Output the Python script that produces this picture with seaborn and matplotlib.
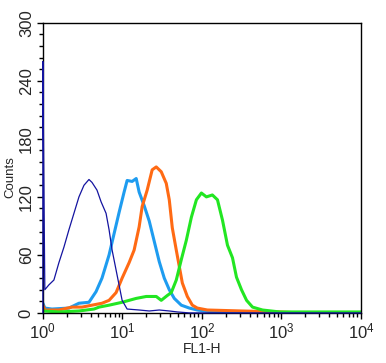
import numpy as np
import pandas as pd
import matplotlib
matplotlib.use("Agg")
import matplotlib.pyplot as plt
import seaborn as sns
from matplotlib.ticker import MultipleLocator, LogLocator, NullFormatter

sns.set_style("ticks")
plt.rcParams['font.family'] = ['Liberation Sans', 'DejaVu Sans']
plt.rcParams['mathtext.fontset'] = 'custom'
plt.rcParams['mathtext.rm'] = 'Liberation Sans'
plt.rcParams['mathtext.it'] = 'Liberation Sans'

# log10(FL1-H) positions and counts
navy_log = [0.000, 0.000, 0.012, 0.025, 0.076, 0.139, 0.202, 0.265, 0.328, 0.391, 0.454, 0.517,
            0.580, 0.618, 0.681, 0.732, 0.795, 0.833, 0.871, 0.934, 0.997, 1.060, 1.211,
            1.338, 1.464, 1.590, 1.691, 1.842, 4.000]
navy_cnt = [0, 260, 140, 24, 29, 34, 52, 68, 86, 103, 120, 132,
            138, 135, 127, 115, 103, 86, 65, 39, 13, 4, 3,
            2, 3, 2, 1, 0, 0]

sky_log = [0.000, 0.025, 0.114, 0.328, 0.454, 0.580, 0.669, 0.744, 0.833, 0.896, 0.959, 1.022,
           1.060, 1.123, 1.174, 1.211, 1.274, 1.338, 1.401, 1.464, 1.527, 1.590, 1.653,
           1.741, 1.842, 1.943, 2.132, 2.322, 4.000]
sky_cnt = [10, 5, 4, 5, 10, 11, 22, 36, 60, 82, 104, 125,
           137, 136, 139, 125, 111, 95, 74, 53, 36, 24, 15,
           8, 5, 3, 1, 0, 0]

orange_log = [0.000, 0.025, 0.202, 0.366, 0.492, 0.618, 0.744, 0.833, 0.921, 0.997, 1.085, 1.148,
              1.211, 1.249, 1.312, 1.375, 1.426, 1.489, 1.552, 1.590, 1.628, 1.678, 1.716,
              1.754, 1.817, 1.880, 1.943, 2.069, 2.500, 2.978, 3.230, 4.000]
orange_cnt = [8, 3, 3, 6, 6, 8, 10, 13, 21, 36, 52, 65,
              89, 110, 127, 148, 151, 146, 134, 117, 88, 65, 48,
              31, 17, 8, 5, 3, 2, 1, 0, 0]

green_log = [0.000, 0.202, 0.454, 0.644, 0.707, 0.833, 0.997, 1.174, 1.300, 1.426, 1.489, 1.565,
             1.615, 1.678, 1.741, 1.804, 1.868, 1.931, 1.994, 2.057, 2.132, 2.196, 2.259,
             2.322, 2.385, 2.435, 2.498, 2.562, 2.637, 2.763, 2.978, 4.000]
green_cnt = [2, 1, 2, 4, 6, 8, 11, 15, 17, 17, 13, 18,
             21, 34, 55, 75, 99, 117, 124, 120, 122, 117, 96,
             70, 57, 37, 24, 13, 6, 3, 1, 1]

series = [
    ("sky", sky_log, sky_cnt, "#1e9cf0", 2.2),
    ("orange", orange_log, orange_cnt, "#ff6a14", 2.2),
    ("green", green_log, green_cnt, "#22e622", 2.2),
    ("navy", navy_log, navy_cnt, "#1414a0", 0.9),
]

fig = plt.figure(figsize=(3.86, 3.63), dpi=100)
ax = fig.add_axes([0.111, 0.138, 0.824, 0.799])

for name, lg, cnt, col, lw in series:
    df = pd.DataFrame({"FL1-H": np.power(10.0, lg), "Counts": cnt})
    sns.lineplot(data=df, x="FL1-H", y="Counts", sort=False, estimator=None,
                 color=col, linewidth=lw, ax=ax)
    if name == "navy":
        ax.lines[-1].set_clip_on(False)
        ax.lines[-1].set_zorder(3)

ax.set_xscale("log")
ax.set_xlim(1, 1e4)
ax.set_ylim(0, 300)
ax.xaxis.set_major_locator(LogLocator(base=10, numticks=10))
ax.xaxis.set_minor_locator(LogLocator(base=10, subs=np.arange(2, 10), numticks=100))
ax.xaxis.set_minor_formatter(NullFormatter())
ax.set_xticks([1, 10, 100, 1000, 10000])
ax.set_xticklabels([r"$10^0$", r"$10^1$", r"$10^2$", r"$10^3$", r"$10^4$"], fontsize=12)

ax.yaxis.set_major_locator(MultipleLocator(60))
ax.yaxis.set_minor_locator(MultipleLocator(12))
ax.set_yticks([0, 60, 120, 180, 240, 300])
ax.set_yticklabels(["0", "60", "120", "180", "240", "300"], fontsize=12, rotation=90, va="center")

ax.tick_params(which="major", direction="out", length=4.5, width=1, color="black", pad=2)
ax.tick_params(which="minor", direction="out", length=3, width=1, color="black")
for s in ax.spines.values():
    s.set_visible(True)
    s.set_linewidth(1.0)
    s.set_color("black")

ax.set_xlabel("FL1-H", fontsize=10, labelpad=0)
ax.set_ylabel("Counts", fontsize=9.5)
ax.yaxis.set_label_coords(-0.082, 0.47)

fig.savefig("out.png", dpi=100)
